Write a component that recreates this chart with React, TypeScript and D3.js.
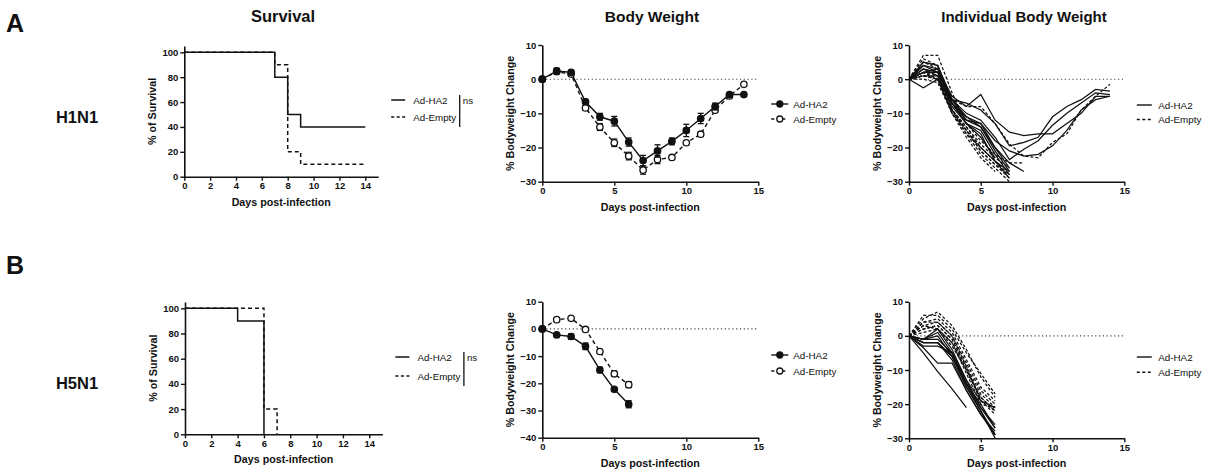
import { useEffect, useRef } from "react";
import * as d3 from "d3";

// ---- axis ticks ----
const survDayTicks = [0, 2, 4, 6, 8, 10, 12, 14];
const survPctTicks = [0, 20, 40, 60, 80, 100];
const bwDayTicks = [0, 5, 10, 15];
const bwTicksH1 = [-30, -20, -10, 0, 10];
const bwTicksH5 = [-40, -30, -20, -10, 0, 10];
const indTicks = [-30, -20, -10, 0, 10];

const groups = ["Ad-HA2", "Ad-Empty"];

// ---- survival (step curves) ----
const h1SurvHA2Days = [0, 7, 8, 9, 14];
const h1SurvHA2Pct = [100, 80, 50, 40, 40];
const h1SurvEmptyDays = [0, 7, 8, 9, 14];
const h1SurvEmptyPct = [100, 90, 20, 10, 10];
const h5SurvHA2Days = [0, 4, 6];
const h5SurvHA2Pct = [100, 90, 0];
const h5SurvEmptyDays = [0, 6, 7];
const h5SurvEmptyPct = [100, 20, 0];

// ---- mean body weight +/- SEM ----
const h1BwDays = [0, 1, 2, 3, 4, 5, 6, 7, 8, 9, 10, 11, 12, 13, 14];
const h1BwHA2 = [0, 2.4, 2, -6.6, -11, -12.3, -18.4, -23.8, -21, -18.2, -15, -11.5, -8, -4.5, -4.5];
const h1BwHA2Sem = [0, 0.8, 0.6, 0.7, 1, 1.4, 1.2, 1.5, 1.8, 1, 1.8, 1.5, 1, 0.4, 0.3];
const h1BwEmpty = [0, 2.2, 1.5, -8.4, -14, -18.6, -22.5, -26.6, -23.5, -22.9, -18.6, -16.1, -9.1, -4.9, -1.5];
const h1BwEmptySem = [0, 0.5, 0.5, 0.6, 1, 1.1, 1.1, 1.2, 1.2, 0, 0, 0, 0, 0, 0];

const h5BwDays = [0, 1, 2, 3, 4, 5, 6];
const h5BwHA2 = [0, -2.2, -2.8, -6.4, -15.1, -22.2, -27.7];
const h5BwHA2Sem = [0, 0.3, 1, 1.2, 1, 0.4, 1.3];
const h5BwEmpty = [0, 3.4, 3.9, -0.2, -8.3, -16.5, -20.5];
const h5BwEmptySem = [0, 0.3, 0.3, 0.3, 0.4, 1, 1.1];

// ---- individual body weight (value per day from day 0) ----
const h1IndHA2 = [
  [0, 4, 3, -5, -8, -4.5, -12, -15.5, -16.5, -16, -16, -13, -10, -5, -5],
  [0, 5, 4, -6, -7, -9, -13, -19.5, -18.5, -17, -11, -8, -6, -3, -3.5],
  [0, 3, 2, -6, -10, -12, -17, -23.5, -20.5, -18, -13.5, -10, -7, -4, -4.5],
  [0, 2, 3, -7, -11, -13, -18, -21, -22.5, -22, -19.5, -15, -9, -6, -5],
  [0, 5, 4, -6, -12, -13, -20, -24.5, -27],
  [0, -2.5, 0, -7, -12, -14, -21, -27],
  [0, 4, 2, -7, -13, -15, -22, -28],
  [0, 3, 1, -8, -13, -16, -24, -29],
  [0, 2, 2, -6, -11, -14, -20, -26],
  [0, 1, 1, -7, -13, -17, -23],
];
const h1IndEmpty = [
  [0, 5, 3, -6, -8, -8, -13, -19, -22.5, -23, -18.5, -16, -9, -5, -1.5],
  [0, 7, 7, -4, -13, -18, -22, -24.5, -24.5],
  [0, 6, 4, -9, -14, -20, -24, -28],
  [0, 2, 1, -9, -15, -20, -24, -27],
  [0, 1, 0, -10, -15, -21, -25, -29],
  [0, 2, 0, -9, -16, -22, -26, -30],
  [0, 0, -1, -10, -16, -20, -24, -27],
  [0, 1, 0, -9, -15, -21, -25, -28],
  [0, 2, 0, -10, -17, -23, -27],
  [0, 1, 0, -9, -14, -19, -23, -26],
];
const h5IndHA2 = [
  [0, -5, -10.5, -15.5, -21],
  [0, -3.5, -8, -8, -16, -23, -28],
  [0, -3, -3, -5, -14, -22, -29],
  [0, -1, 0, -6, -15, -22, -30],
  [0, -2, -2, -6, -14, -20, -27],
  [0, -1, 2, -4, -13, -21, -27],
  [0, -2, -2, -7, -16, -23, -29],
  [0, -1, 1, -5, -13, -19, -21],
  [0, -2, -2, -6, -15, -22, -29],
  [0, -1, -1, -5, -14, -21, -26],
];
const h5IndEmpty = [
  [0, 6, 6, 2, -5, -11, -17],
  [0, 5, 7, 3, -4, -12, -18],
  [0, 4, 5, 1, -7, -15, -19],
  [0, 3, 4, 0, -8, -16, -20],
  [0, 2, 3, -1, -9, -17, -21],
  [0, 3, 2, -2, -10, -18, -22],
  [0, 4, 4, 0, -9, -19, -23],
  [0, 2, 3, -1, -10, -18, -22],
  [0, 1, 2, -2, -11, -20, -21],
  [0, 3, 2, -3, -10, -19, -22],
];

const FONT = "'Liberation Sans', Arial, sans-serif";
const INK = "#111";
const DASH = "4,3";

type G = d3.Selection<SVGGElement, unknown, null, undefined>;

function drawAxes(
  g: G,
  x: d3.ScaleLinear<number, number>,
  y: d3.ScaleLinear<number, number>,
  xTicks: number[],
  yTicks: number[],
  yLabel: string
) {
  const [y0] = y.range();
  const [x0, x1] = x.range();
  const xa = g
    .append("g")
    .attr("transform", `translate(0,${y0})`)
    .call(d3.axisBottom(x).tickValues(xTicks).tickSize(4).tickSizeOuter(0).tickPadding(2));
  const ya = g
    .append("g")
    .attr("transform", `translate(${x0},0)`)
    .call(d3.axisLeft(y).tickValues(yTicks).tickSize(4).tickSizeOuter(0).tickPadding(2));
  [xa, ya].forEach((a) => {
    a.select(".domain").attr("stroke", INK).attr("stroke-width", 1.6);
    a.selectAll(".tick line").attr("stroke", INK).attr("stroke-width", 1.4);
    a.selectAll(".tick text")
      .attr("fill", INK)
      .style("font-family", FONT)
      .style("font-weight", "700")
      .style("font-size", "9.5px");
  });
  g.append("text")
    .attr("x", (x0 + x1) / 2)
    .attr("y", y0 + 29)
    .attr("text-anchor", "middle")
    .attr("fill", INK)
    .style("font-family", FONT)
    .style("font-weight", "700")
    .style("font-size", "10.7px")
    .text("Days post-infection");
  const [ya0, ya1] = y.range();
  g.append("text")
    .attr("transform", `translate(${x0 - 28},${(ya0 + ya1) / 2}) rotate(-90)`)
    .attr("text-anchor", "middle")
    .attr("fill", INK)
    .style("font-family", FONT)
    .style("font-weight", "700")
    .style("font-size", "10.7px")
    .text(yLabel);
}

function legendText(g: G, x: number, y: number, t: string) {
  g.append("text")
    .attr("x", x)
    .attr("y", y + 3.5)
    .attr("fill", INK)
    .style("font-family", FONT)
    .style("font-size", "9.8px")
    .text(t);
}

function survivalPanel(
  g: G,
  xr: [number, number],
  yr: [number, number],
  ha2: [number[], number[]],
  empty: [number[], number[]],
  legY: [number, number]
) {
  const x = d3.scaleLinear().domain([0, 15]).range(xr);
  const y = d3.scaleLinear().domain([0, 105]).range(yr);
  const line = d3
    .line<[number, number]>()
    .x((d) => x(d[0]))
    .y((d) => y(d[1]))
    .curve(d3.curveStepAfter);
  const series = [ha2, empty];
  series.forEach((s, i) => {
    const pts = s[0].map((d, j) => [d, s[1][j]] as [number, number]);
    g.append("path")
      .attr("d", line(pts))
      .attr("fill", "none")
      .attr("stroke", INK)
      .attr("stroke-width", 1.5)
      .attr("stroke-dasharray", i === 1 ? DASH : null);
  });
  drawAxes(g, x, y, survDayTicks, survPctTicks, "% of Survival");
  groups.forEach((name, i) => {
    g.append("line")
      .attr("x1", xr[1] + 13)
      .attr("x2", xr[1] + 27)
      .attr("y1", legY[i])
      .attr("y2", legY[i])
      .attr("stroke", INK)
      .attr("stroke-width", 1.5)
      .attr("stroke-dasharray", i === 1 ? "3,2.5" : null);
    legendText(g, xr[1] + 35, legY[i], name);
  });
  const bx = xr[1] + 81.5;
  g.append("line")
    .attr("x1", bx)
    .attr("x2", bx)
    .attr("y1", legY[0] - 5)
    .attr("y2", legY[1] + 10)
    .attr("stroke", INK)
    .attr("stroke-width", 1.3);
  g.append("text")
    .attr("x", bx + 3)
    .attr("y", legY[0] + 4)
    .attr("fill", INK)
    .style("font-family", FONT)
    .style("font-size", "9.8px")
    .text("ns");
}

function zeroLine(g: G, x: d3.ScaleLinear<number, number>, y: d3.ScaleLinear<number, number>) {
  g.append("line")
    .attr("x1", x(0))
    .attr("x2", x(15))
    .attr("y1", y(0))
    .attr("y2", y(0))
    .attr("stroke", "#444")
    .attr("stroke-width", 1.1)
    .attr("stroke-dasharray", "1.2,2.6");
}

function meanPanel(
  g: G,
  xr: [number, number],
  yDomain: [number, number],
  yr: [number, number],
  yTicks: number[],
  days: number[],
  ha2: number[],
  ha2Sem: number[],
  empty: number[],
  emptySem: number[],
  legY: [number, number]
) {
  const x = d3.scaleLinear().domain([0, 15]).range(xr);
  const y = d3.scaleLinear().domain(yDomain).range(yr);
  zeroLine(g, x, y);
  const line = d3
    .line<number>()
    .x((_, i) => x(days[i]))
    .y((d) => y(d));
  // Ad-Empty drawn first so Ad-HA2 sits on top, as in the original
  const sets = [
    { vals: empty, sem: emptySem, open: true },
    { vals: ha2, sem: ha2Sem, open: false },
  ];
  sets.forEach((s) => {
    g.append("path")
      .attr("d", line(s.vals))
      .attr("fill", "none")
      .attr("stroke", INK)
      .attr("stroke-width", 1.4)
      .attr("stroke-dasharray", s.open ? DASH : null);
  });
  sets.forEach((s) => {
    const eb = g.append("g").attr("stroke", INK).attr("stroke-width", 1.3);
    s.vals.forEach((v, i) => {
      if (!s.sem[i]) return;
      const cx = x(days[i]);
      const top = y(v + s.sem[i]);
      const bot = y(v - s.sem[i]);
      eb.append("line").attr("x1", cx).attr("x2", cx).attr("y1", top).attr("y2", bot);
      eb.append("line").attr("x1", cx - 3).attr("x2", cx + 3).attr("y1", top).attr("y2", top);
      eb.append("line").attr("x1", cx - 3).attr("x2", cx + 3).attr("y1", bot).attr("y2", bot);
    });
    g.append("g")
      .selectAll("circle")
      .data(s.vals)
      .join("circle")
      .attr("cx", (_, i) => x(days[i]))
      .attr("cy", (d) => y(d))
      .attr("r", 3.2)
      .attr("fill", s.open ? "#fff" : INK)
      .attr("stroke", INK)
      .attr("stroke-width", 1.3);
  });
  drawAxes(g, x, y, bwDayTicks, yTicks, "% Bodyweight Change");
  groups.forEach((name, i) => {
    const lx = xr[1] + 13;
    g.append("line")
      .attr("x1", lx)
      .attr("x2", lx + 17)
      .attr("y1", legY[i])
      .attr("y2", legY[i])
      .attr("stroke", INK)
      .attr("stroke-width", 1.4)
      .attr("stroke-dasharray", i === 1 ? "3,8" : null);
    g.append("circle")
      .attr("cx", lx + 8.5)
      .attr("cy", legY[i])
      .attr("r", 3)
      .attr("fill", i === 1 ? "#fff" : INK)
      .attr("stroke", INK)
      .attr("stroke-width", 1.3);
    legendText(g, lx + 22, legY[i], name);
  });
}

function individualPanel(
  g: G,
  id: string,
  xr: [number, number],
  yr: [number, number],
  ha2: number[][],
  empty: number[][],
  legY: [number, number]
) {
  const x = d3.scaleLinear().domain([0, 15]).range(xr);
  const y = d3.scaleLinear().domain([-30, 10]).range(yr);
  zeroLine(g, x, y);
  g.append("clipPath")
    .attr("id", id)
    .append("rect")
    .attr("x", x(0))
    .attr("y", y(10))
    .attr("width", x(15) - x(0))
    .attr("height", y(-30) - y(10) + 1);
  const line = d3
    .line<number>()
    .x((_, i) => x(i))
    .y((d) => y(d));
  const lg = g.append("g").attr("clip-path", `url(#${id})`);
  [empty, ha2].forEach((set, k) => {
    set.forEach((m) => {
      lg.append("path")
        .attr("d", line(m))
        .attr("fill", "none")
        .attr("stroke", INK)
        .attr("stroke-width", 1.25)
        .attr("stroke-dasharray", k === 0 ? "3,2" : null);
    });
  });
  drawAxes(g, x, y, bwDayTicks, indTicks, "% Bodyweight Change");
  groups.forEach((name, i) => {
    g.append("line")
      .attr("x1", xr[1] + 12.5)
      .attr("x2", xr[1] + 27.5)
      .attr("y1", legY[i])
      .attr("y2", legY[i])
      .attr("stroke", INK)
      .attr("stroke-width", 1.4)
      .attr("stroke-dasharray", i === 1 ? "3,2.5" : null);
    legendText(g, xr[1] + 34, legY[i], name);
  });
}

export default function App() {
  const ref = useRef<SVGSVGElement>(null);

  useEffect(() => {
    if (!ref.current) return;
    const svg = d3.select(ref.current);
    svg.selectAll("*").remove();
    const g = svg.append("g") as unknown as G;

    const bold = (t: string, x: number, y: number, size: number, anchor = "middle") =>
      g
        .append("text")
        .attr("x", x)
        .attr("y", y)
        .attr("text-anchor", anchor)
        .attr("fill", INK)
        .style("font-family", FONT)
        .style("font-weight", "700")
        .style("font-size", `${size}px`)
        .text(t);

    bold("A", 6, 32, 25, "start");
    bold("B", 6, 274, 25, "start");
    bold("Survival", 283, 22, 16.5);
    bold("Body Weight", 652, 22, 15.5);
    bold("Individual Body Weight", 1024, 22, 15);
    bold("H1N1", 77, 123, 16.5);
    bold("H5N1", 77, 389, 16.5);

    survivalPanel(
      g,
      [184.3, 378.2],
      [176.7, 46.1],
      [h1SurvHA2Days, h1SurvHA2Pct],
      [h1SurvEmptyDays, h1SurvEmptyPct],
      [100, 117]
    );
    survivalPanel(
      g,
      [185, 382.4],
      [434.3, 302],
      [h5SurvHA2Days, h5SurvHA2Pct],
      [h5SurvEmptyDays, h5SurvEmptyPct],
      [357, 376]
    );

    meanPanel(g, [542.3, 758.3], [-30, 10], [181.7, 45], bwTicksH1, h1BwDays, h1BwHA2, h1BwHA2Sem, h1BwEmpty, h1BwEmptySem, [104, 119]);
    meanPanel(g, [542.3, 758.3], [-40, 10], [437.7, 301.7], bwTicksH5, h5BwDays, h5BwHA2, h5BwHA2Sem, h5BwEmpty, h5BwEmptySem, [355, 371]);

    individualPanel(g, "clipH1", [909, 1124.3], [181.7, 45], h1IndHA2, h1IndEmpty, [105, 119.5]);
    individualPanel(g, "clipH5", [909, 1124.3], [438.3, 301.7], h5IndHA2, h5IndEmpty, [357, 372.3]);
  }, []);

  return (
    <>
      <style>{`body{margin:0;background:#fff}`}</style>
      <svg ref={ref} width={1214} height={474} style={{ display: "block", background: "#fff" }} />
    </>
  );
}
